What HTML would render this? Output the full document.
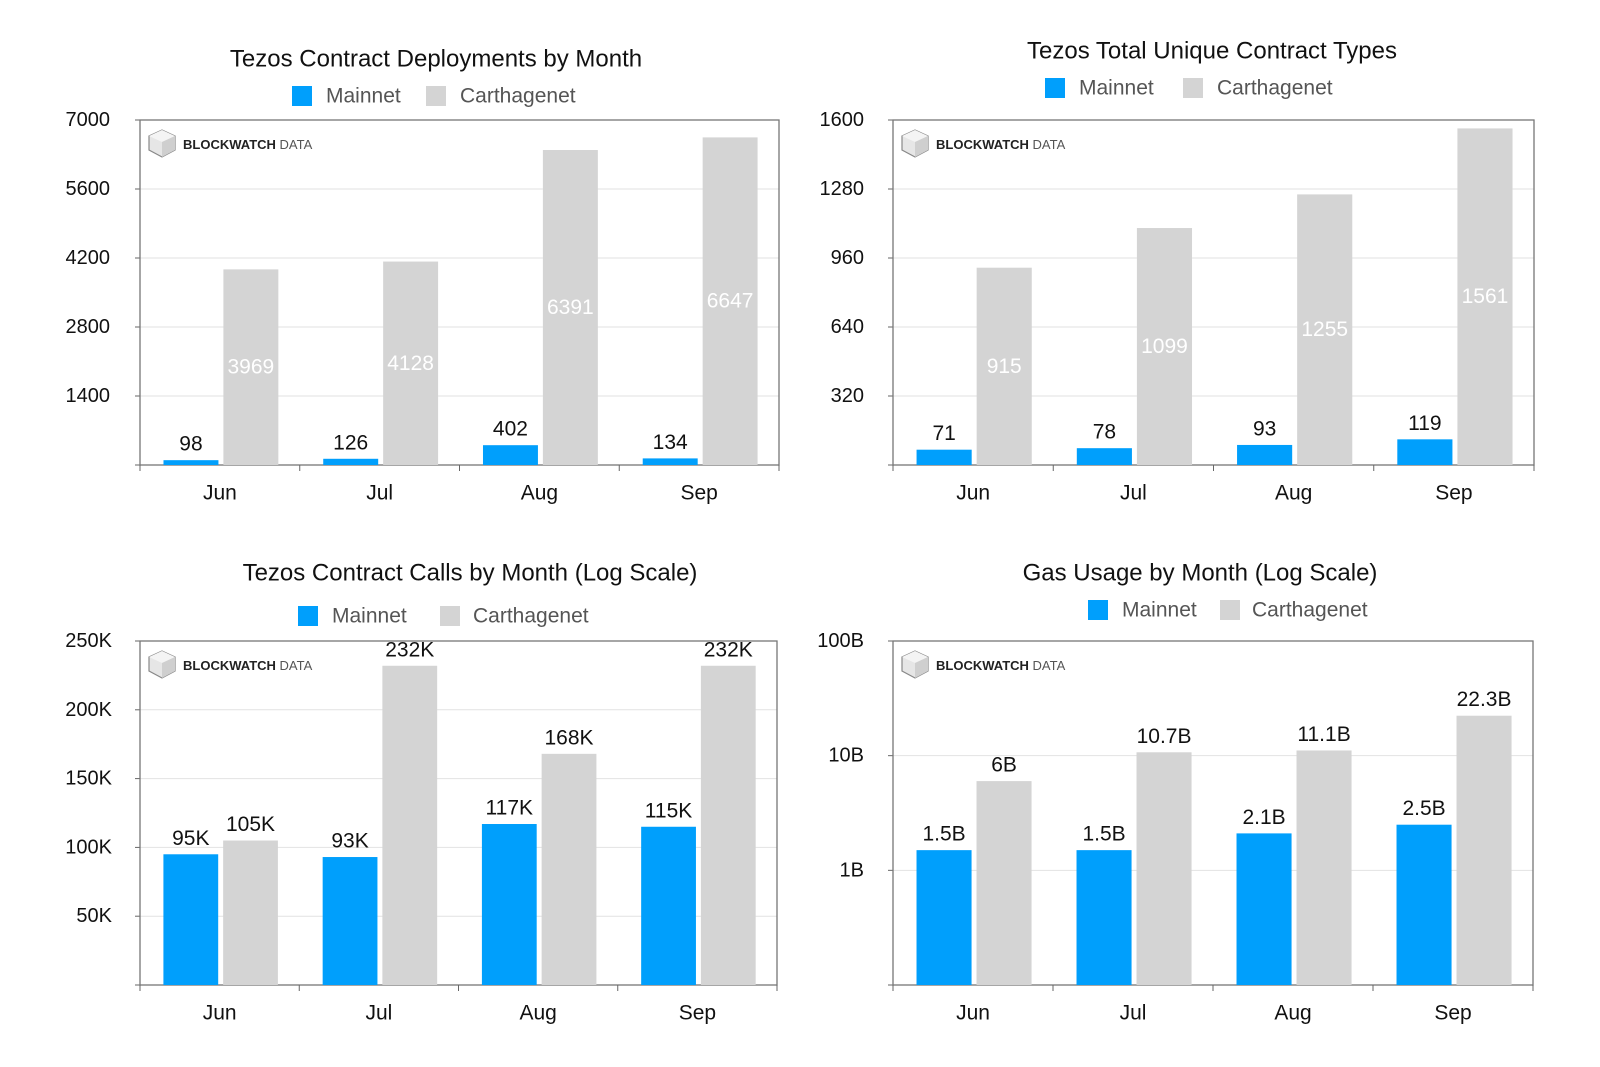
<!DOCTYPE html>
<html><head><meta charset="utf-8">
<style>
html,body{margin:0;padding:0;background:#fff;}
svg{display:block;font-family:"Liberation Sans",Arial,sans-serif;}
</style></head>
<body>
<svg id="root" width="1600" height="1067" viewBox="0 0 1600 1067" xmlns="http://www.w3.org/2000/svg"></svg>
<script>
const categories = ["Jun","Jul","Aug","Sep"];
const deployMainnet = [98,126,402,134];
const deployCarth = [3969,4128,6391,6647];
const deployTicks = [1400,2800,4200,5600,7000];
const typesMainnet = [71,78,93,119];
const typesCarth = [915,1099,1255,1561];
const typesTicks = [320,640,960,1280,1600];
const callsMainnet = [95,93,117,115];
const callsCarth = [105,232,168,232];
const callsTicks = [50,100,150,200,250];
const gasMainnet = [1.5,1.5,2.1,2.5];
const gasCarth = [6,10.7,11.1,22.3];
const gasTicks = [1,10,100];

const NS="http://www.w3.org/2000/svg";
const root=document.getElementById('root');
function mk(tag,attrs,parent,text){const e=document.createElementNS(NS,tag);for(const k in attrs)e.setAttribute(k,attrs[k]);if(text!==undefined)e.textContent=text;(parent||root).appendChild(e);return e;}

function chart(cfg){
  const g=mk('g',{});
  
  
  const {x0,x1,y0,y1}=cfg;
  const h=y1-y0;
  let yScale;
  if(cfg.log){const lmin=Math.log10(cfg.min),lmax=Math.log10(cfg.max);yScale=v=>y1-(Math.log10(v)-lmin)/(lmax-lmin)*h;}
  else yScale=v=>y1-v/cfg.max*h;
  // title
  const t=mk('text',{x:cfg.tx,y:cfg.ty,'text-anchor':'middle','dominant-baseline':'central','font-size':24,fill:'#111'},g,cfg.title);
  
  
  // legend
  const lg=mk('g',{},g);
  
  
  const l1=mk('rect',{x:cfg.lx[0],y:cfg.ly-10,width:20,height:20,fill:'#009ffc'},lg);
  
  
  const l1t=mk('text',{x:cfg.lx[1],y:cfg.ly,'dominant-baseline':'central','font-size':21,fill:'#555'},lg,'Mainnet');
  
  
  const l2=mk('rect',{x:cfg.lx[2],y:cfg.ly-10,width:20,height:20,fill:'#d4d4d4'},lg);
  
  
  const l2t=mk('text',{x:cfg.lx[3],y:cfg.ly,'dominant-baseline':'central','font-size':21,fill:'#555'},lg,'Carthagenet');
  
  
  // grid + ticks
  cfg.ticks.forEach((tv,i)=>{
    const y=yScale(tv);
    const gl=mk('line',{x1:x0,x2:x1,y1:y,y2:y,stroke:'#e2e2e2','stroke-width':1},g);
    
    
    mk('line',{x1:x0-5,x2:x0,y1:y,y2:y,stroke:'#666'},g);
    const tl=mk('text',{x:cfg.tickR,y:y,'text-anchor':'end','dominant-baseline':'central','font-size':20,fill:'#111'},g,cfg.tickLabels[i]);
    
    
  });
  mk('line',{x1:x0-5,x2:x0,y1:y1,y2:y1,stroke:'#666'},g);
  // frame
  const fr=mk('rect',{x:x0,y:y0,width:x1-x0,height:h,fill:'none',stroke:'#777','stroke-width':1.3},g);
  
  
  // logo
  const lgo=mk('g',{transform:`translate(${x0+8},${y0+9})`},g);
  
  
  mk('polygon',{points:'14,1 27,7 27,21 14,28 1,21 1,7',fill:'#e6e6e6',stroke:'#888','stroke-width':1.2},lgo);
  mk('polygon',{points:'14,1 27,7 14,13 1,7',fill:'#f4f4f4'},lgo);
  mk('polygon',{points:'14,13 27,7 27,21 14,28',fill:'#cfcfcf'},lgo);
  const lt=mk('text',{x:35,y:15,'dominant-baseline':'central','font-size':13,fill:'#222'},lgo);
  mk('tspan',{'font-weight':'bold'},lt,'BLOCKWATCH');
  mk('tspan',{fill:'#555'},lt,' DATA');
  // bars
  const cw=(x1-x0)/categories.length;
  categories.forEach((c,i)=>{
    const cx=x0+i*cw;
    const base=y1;
    const ym=yScale(cfg.m[i]), yc=yScale(cfg.c[i]);
    const b1=mk('rect',{x:cx+cw*0.147,y:ym,width:cw*0.344,height:base-ym,fill:'#009ffc'},g);
    
    
    const b2=mk('rect',{x:cx+cw*0.522,y:yc,width:cw*0.344,height:base-yc,fill:'#d4d4d4'},g);
    
    
    const v1=mk('text',{x:cx+cw*0.319,y:ym-16,'text-anchor':'middle','dominant-baseline':'central','font-size':21,fill:'#111'},g,cfg.fmt(cfg.m[i]));
    
    
    let v2;
    if(cfg.inside) v2=mk('text',{x:cx+cw*0.694,y:(yc+base)/2,'text-anchor':'middle','dominant-baseline':'central','font-size':21,fill:'#fff'},g,cfg.fmt(cfg.c[i]));
    else v2=mk('text',{x:cx+cw*0.694,y:yc-16,'text-anchor':'middle','dominant-baseline':'central','font-size':21,fill:'#111'},g,cfg.fmt(cfg.c[i]));
    
    
    const cl=mk('text',{x:cx+cw/2,y:y1+28,'text-anchor':'middle','dominant-baseline':'central','font-size':21,fill:'#111'},g,c);
    
    
    mk('line',{x1:cx,x2:cx,y1:y1,y2:y1+6,stroke:'#666'},g);
  });
  mk('line',{x1:x1,x2:x1,y1:y1,y2:y1+6,stroke:'#666'},g);
}
const plain=v=>String(v);
chart({name:'contract-deployments-chart',title:'Tezos Contract Deployments by Month',tx:436,ty:59,lx:[292,326,426,460],ly:96,
  x0:140,x1:779,y0:120,y1:465,max:7000,ticks:deployTicks,tickLabels:deployTicks.map(String),tickR:110,m:deployMainnet,c:deployCarth,fmt:plain,inside:true});
chart({name:'unique-contract-types-chart',title:'Tezos Total Unique Contract Types',tx:1212,ty:51,lx:[1045,1079,1183,1217],ly:88,
  x0:893,x1:1534,y0:120,y1:465,max:1600,ticks:typesTicks,tickLabels:typesTicks.map(String),tickR:864,m:typesMainnet,c:typesCarth,fmt:plain,inside:true});
chart({name:'contract-calls-chart',title:'Tezos Contract Calls by Month (Log Scale)',tx:470,ty:573,lx:[298,332,440,473],ly:616,
  x0:140,x1:777,y0:641,y1:985,max:250,ticks:callsTicks,tickLabels:callsTicks.map(v=>v+'K'),tickR:112,m:callsMainnet,c:callsCarth,fmt:v=>v+'K',inside:false});
chart({name:'gas-usage-chart',title:'Gas Usage by Month (Log Scale)',tx:1200,ty:573,lx:[1088,1122,1220,1252],ly:610,
  x0:893,x1:1533,y0:641,y1:985,log:true,min:0.1,max:100,ticks:gasTicks,tickLabels:gasTicks.map(v=>v+'B'),tickR:864,m:gasMainnet,c:gasCarth,fmt:v=>v+'B',inside:false});
</script>
</body></html>
